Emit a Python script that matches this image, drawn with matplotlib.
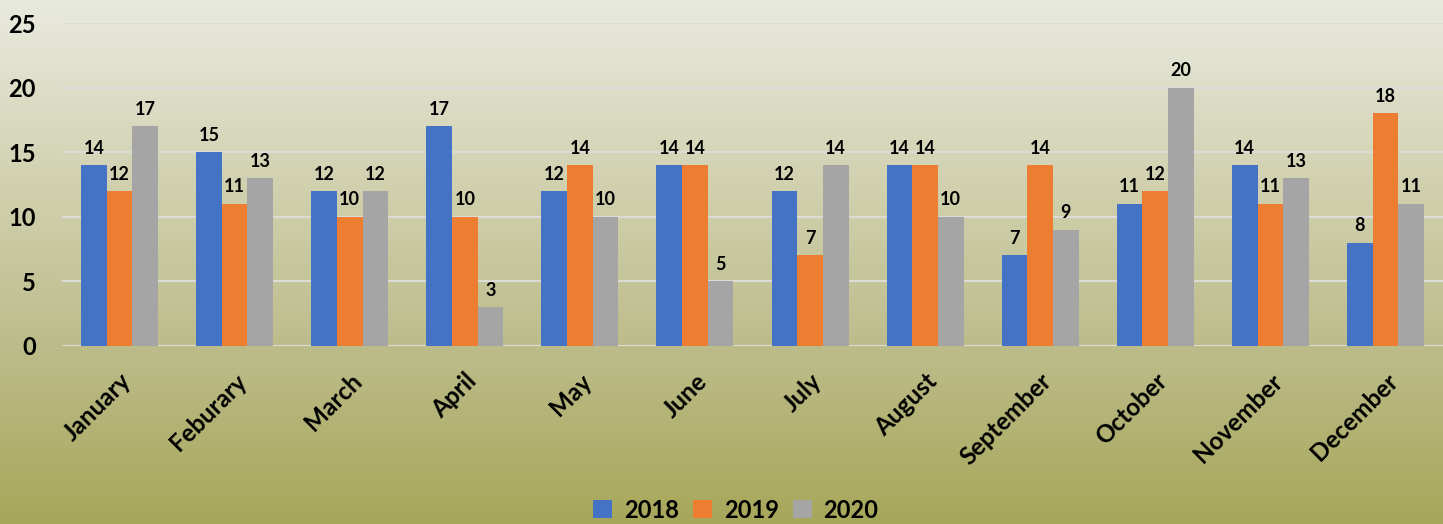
import numpy as np
import matplotlib
matplotlib.use("Agg")
import matplotlib.pyplot as plt
from matplotlib.colors import LinearSegmentedColormap

# Data
months = ["January", "Feburary", "March", "April", "May", "June",
          "July", "August", "September", "October", "November", "December"]
years = ["2018", "2019", "2020"]
v2018 = [14, 15, 12, 17, 12, 14, 12, 14, 7, 11, 14, 8]
v2019 = [12, 11, 10, 10, 14, 14, 7, 14, 14, 12, 11, 18]
v2020 = [17, 13, 12, 3, 10, 5, 14, 10, 9, 20, 13, 11]
colors = ["#4472C4", "#ED7D31", "#A5A5A5"]

plt.rcParams['font.family'] = ['Lato', 'DejaVu Sans']

fig = plt.figure(figsize=(14.43, 5.24), dpi=100)

# gradient background over the whole figure
bg = fig.add_axes([0, 0, 1, 1], zorder=-10)
cmap = LinearSegmentedColormap.from_list(
    "bg", ["#e9eadf", "#d2d2b2", "#bcbc8a", "#a7a75a"])
bg.imshow(np.linspace(0, 1, 256).reshape(-1, 1), aspect="auto", cmap=cmap,
          extent=[0, 1, 0, 1])
bg.axis("off")

ax = fig.add_axes([0.043, 0.34, 0.957, 0.616])
ax.patch.set_alpha(0)

x = np.arange(len(months))
w = 0.223
series = [v2018, v2019, v2020]
for i, (vals, c, yr) in enumerate(zip(series, colors, years)):
    bars = ax.bar(x + (i - 1) * w, vals, w, color=c, label=yr, zorder=3)
    ax.bar_label(bars, padding=6, fontsize=13, fontweight="bold")

ax.set_xlim(-0.5, len(months) - 0.5)
ax.set_ylim(0, 25)
ax.set_yticks([0, 5, 10, 15, 20, 25])
ax.grid(axis="y", color="#dcdcd6", linewidth=1.5, zorder=0)
for s in ax.spines.values():
    s.set_visible(False)
ax.tick_params(length=0)
ax.tick_params(axis="y", labelsize=17, pad=19)
ax.tick_params(axis="x", pad=17)
ax.set_xticks(x)
ax.set_xticklabels(months, rotation=45, ha="right", rotation_mode="anchor",
                   fontsize=17.5, fontweight="bold")
for t in ax.get_yticklabels():
    t.set_fontweight("bold")

fig.legend(loc="lower center", ncol=3, bbox_to_anchor=(0.51, -0.036),
           frameon=False, prop={"size": 17, "weight": "bold"},
           handlelength=0.8, handleheight=0.8, columnspacing=0.6,
           handletextpad=0.5)

fig.savefig("out.png", dpi=100)
